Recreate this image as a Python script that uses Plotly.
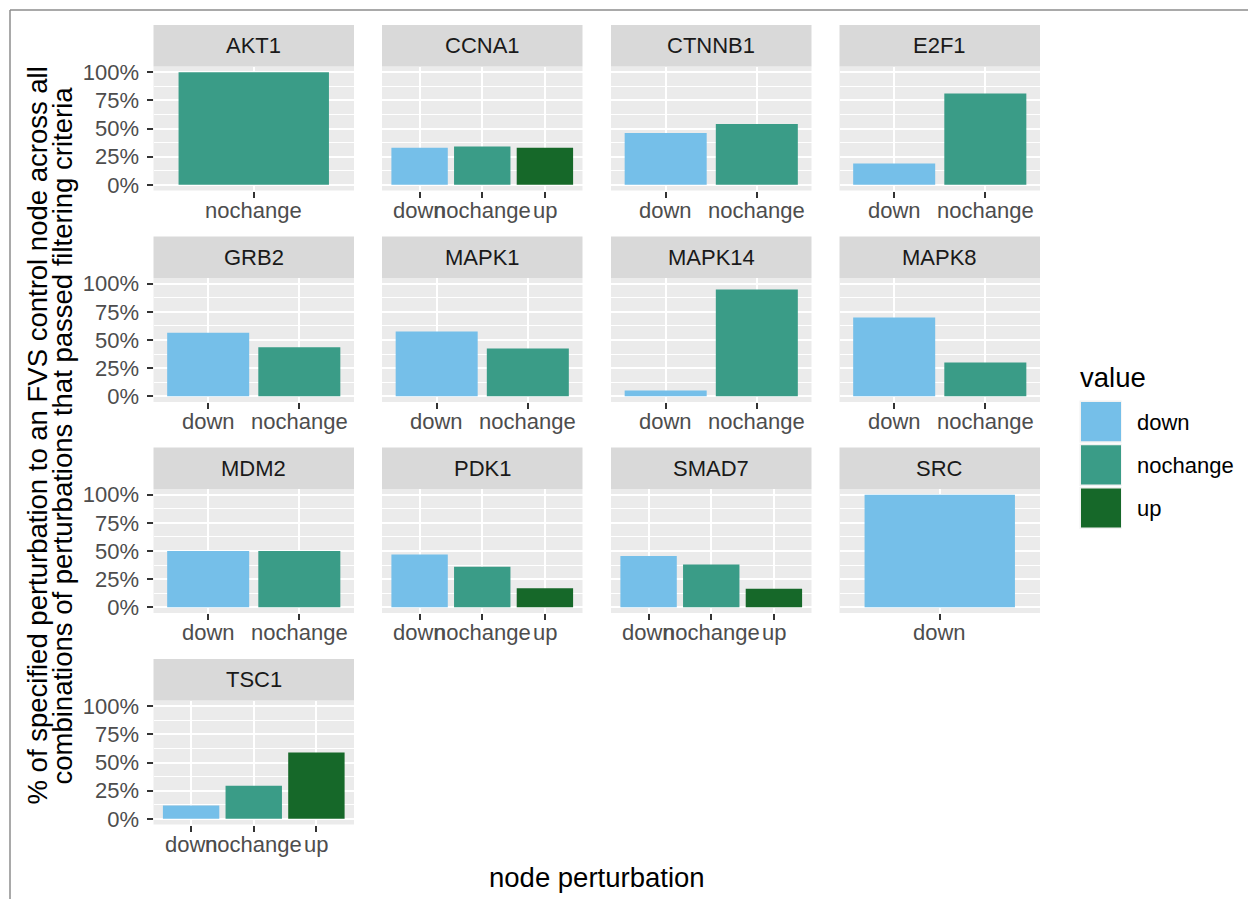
import plotly.graph_objects as go

# ---- data: share of each perturbation direction per FVS control node ----
nodes = ["AKT1", "CCNA1", "CTNNB1", "E2F1", "GRB2", "MAPK1", "MAPK14",
         "MAPK8", "MDM2", "PDK1", "SMAD7", "SRC", "TSC1"]
down_pct = [None, 0.33, 0.46, 0.19, 0.565, 0.575, 0.053, 0.70, 0.50, 0.47, 0.455, 1.00, 0.118]
nochange_pct = [1.00, 0.34, 0.54, 0.81, 0.435, 0.425, 0.947, 0.30, 0.50, 0.36, 0.38, None, 0.294]
up_pct = [None, 0.33, None, None, None, None, None, None, None, 0.17, 0.165, None, 0.588]

levels = ["down", "nochange", "up"]
level_colors = {"down": "#75BFE9", "nochange": "#3A9C87", "up": "#166829"}
y_ticks = [0, 0.25, 0.5, 0.75, 1.0]
y_tick_text = ["0%", "25%", "50%", "75%", "100%"]

# ---- page geometry (pixels) ----
W, H = 1248, 899
FONT = "Liberation Sans, Arial, Helvetica, sans-serif"
SMALL = 22
LARGE = 27.5
col_left = [153.5, 382.0, 611.0, 839.5]
col_width = 200.5
strip_top = [25.0, 236.5, 447.5, 659.0]
strip_h = 41.5
panel_h = 124.0


def px_x(x):
    return x / W


def px_y(y):
    return 1 - y / H


fig = go.Figure()
shapes = []
annotations = []
layout_axes = {}

series = {"down": down_pct, "nochange": nochange_pct, "up": up_pct}

for i, node in enumerate(nodes):
    r, c = divmod(i, 4)
    k = i + 1
    cats = [lv for lv in levels if series[lv][i] is not None]
    vals = [series[lv][i] for lv in cats]
    xs = "x" if k == 1 else f"x{k}"
    ys = "y" if k == 1 else f"y{k}"
    fig.add_trace(go.Bar(
        x=cats, y=vals, width=0.9,
        marker=dict(color=[level_colors[lv] for lv in cats], line=dict(width=0)),
        xaxis=xs, yaxis=ys, showlegend=False, hoverinfo="x+y",
    ))

    x0, x1 = col_left[c], col_left[c] + col_width
    p_top = strip_top[r] + strip_h
    p_bot = p_top + panel_h

    layout_axes["xaxis" if k == 1 else f"xaxis{k}"] = dict(
        domain=[px_x(x0), px_x(x1)], anchor=ys, type="category",
        categoryorder="array", categoryarray=cats,
        range=[-0.6, len(cats) - 0.4],
        showgrid=True, gridcolor="white", gridwidth=2.2,
        ticks="outside", ticklen=6, tickwidth=2, tickcolor="#333333",
        showticklabels=False, automargin=False,
        zeroline=False, showline=False, fixedrange=True,
    )
    layout_axes["yaxis" if k == 1 else f"yaxis{k}"] = dict(
        domain=[px_y(p_bot), px_y(p_top)], anchor=xs,
        range=[-0.05, 1.05],
        tickmode="array", tickvals=y_ticks, ticktext=y_tick_text,
        showticklabels=(c == 0), automargin=False,
        ticks="outside" if c == 0 else "", ticklen=6, tickwidth=2,
        tickcolor="#333333",
        tickfont=dict(size=SMALL, color="#4D4D4D", family=FONT),
        ticklabelstandoff=3,
        showgrid=True, gridcolor="white", gridwidth=2.2,
        minor=dict(tickmode="array", tickvals=[0.125, 0.375, 0.625, 0.875],
                   showgrid=True, gridcolor="white", gridwidth=1.1, ticks=""),
        zeroline=False, showline=False, fixedrange=True,
    )

    # category labels under each panel, placed on the panel's own x scale
    for cat in cats:
        annotations.append(dict(text=cat, xref=xs, yref="paper", x=cat,
                                y=px_y(p_bot + 19.5), xanchor="center", yanchor="middle",
                                showarrow=False,
                                font=dict(size=SMALL, color="#4D4D4D", family=FONT)))

    # facet strip
    shapes.append(dict(type="rect", xref="paper", yref="paper",
                       x0=px_x(x0), x1=px_x(x1),
                       y0=px_y(strip_top[r] + strip_h), y1=px_y(strip_top[r]),
                       fillcolor="#D9D9D9", line=dict(width=0), layer="below"))
    annotations.append(dict(text=node, xref="paper", yref="paper",
                            x=px_x((x0 + x1) / 2), y=px_y(strip_top[r] + strip_h / 2),
                            xanchor="center", yanchor="middle", showarrow=False,
                            font=dict(size=SMALL, color="#1A1A1A", family=FONT)))

# axis titles
annotations.append(dict(text="node perturbation", xref="paper", yref="paper",
                        x=px_x(596.5), y=px_y(877), xanchor="center", yanchor="middle",
                        showarrow=False, font=dict(size=LARGE, color="black", family=FONT)))
y_title_lines = ["% of specified perturbation to an FVS control node across all",
                 "combinations of perturbations that passed filtering criteria"]
for xpos, line in zip([37.5, 62.5], y_title_lines):
    annotations.append(dict(text=line, xref="paper", yref="paper",
                            x=px_x(xpos), y=px_y(436), xanchor="center", yanchor="middle",
                            textangle=-90, showarrow=False,
                            font=dict(size=LARGE, color="black", family=FONT)))

# legend: title, filled keys and labels
annotations.append(dict(text="value", xref="paper", yref="paper",
                        x=px_x(1078), y=px_y(377), xanchor="left", yanchor="middle",
                        showarrow=False, font=dict(size=LARGE, color="black", family=FONT)))
key_top = 400.5
key_size = 43.2
for j, lv in enumerate(levels):
    top = key_top + j * key_size
    shapes.append(dict(type="rect", xref="paper", yref="paper",
                       x0=px_x(1079.5), x1=px_x(1079.5 + key_size - 1),
                       y0=px_y(top + key_size - 1), y1=px_y(top),
                       fillcolor="#F2F2F2", line=dict(width=0)))
    shapes.append(dict(type="rect", xref="paper", yref="paper",
                       x0=px_x(1081), x1=px_x(1121),
                       y0=px_y(top + key_size - 2.5), y1=px_y(top + 1.5),
                       fillcolor=level_colors[lv], line=dict(width=0)))
    annotations.append(dict(text=lv, xref="paper", yref="paper",
                            x=px_x(1135), y=px_y(top + key_size / 2), xanchor="left",
                            yanchor="middle", showarrow=False,
                            font=dict(size=SMALL, color="black", family=FONT)))

# outer frame (top and left edges)
shapes.append(dict(type="line", xref="paper", yref="paper",
                   x0=px_x(10), x1=1, y0=px_y(10), y1=px_y(10),
                   line=dict(color="#8C8C8C", width=1.5)))
shapes.append(dict(type="line", xref="paper", yref="paper",
                   x0=px_x(10), x1=px_x(10), y0=0, y1=px_y(10),
                   line=dict(color="#8C8C8C", width=1.5)))

fig.update_layout(
    width=W, height=H, margin=dict(l=0, r=0, t=0, b=0, autoexpand=False),
    paper_bgcolor="white", plot_bgcolor="#EBEBEB",
    font=dict(family=FONT, color="#4D4D4D"),
    shapes=shapes, annotations=annotations, showlegend=False,
    **layout_axes,
)

fig.write_html("out.html")
